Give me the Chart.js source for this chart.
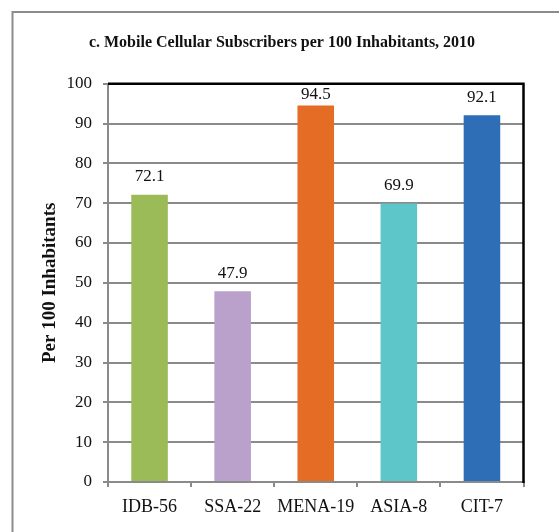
<!DOCTYPE html>
<html>
<head>
<meta charset="utf-8">
<script src="https://cdn.jsdelivr.net/npm/chart.js@4"></script>
<style>
  html, body { margin: 0; padding: 0; background: #fff; }
  #wrap { width: 559px; height: 532px; }
</style>
</head>
<body>
<div id="wrap"><canvas id="c" width="559" height="532"></canvas></div>
<script>
const chartTitle = "c. Mobile Cellular Subscribers per 100 Inhabitants, 2010";
const yAxisTitle = "Per 100 Inhabitants";
const categories = ["IDB-56", "SSA-22", "MENA-19", "ASIA-8", "CIT-7"];
const values = [72.1, 47.9, 94.5, 69.9, 92.1];
const barColors = ["#9BBB59", "#BAA1CC", "#E46C24", "#5DC6C9", "#2D6EB6"];
const yMin = 0, yMax = 100, yStep = 10;

const SERIF = '"Liberation Serif", "Times New Roman", serif';
const GRID = "#8a8a8a";

const framePlugin = {
  id: "frame",
  beforeDraw(chart) {
    const ctx = chart.ctx;
    ctx.save();
    ctx.fillStyle = "#fff";
    ctx.fillRect(0, 0, chart.width, chart.height);
    ctx.strokeStyle = "#8c8c8c";
    ctx.lineWidth = 2;
    ctx.strokeRect(12.5, 12, 700, 700);
    ctx.restore();
  },
  afterDatasetsDraw(chart) {
    const ctx = chart.ctx;
    const a = chart.chartArea;
    ctx.save();
    ctx.strokeStyle = "#000";
    ctx.lineWidth = 2.5;
    ctx.beginPath();
    ctx.moveTo(a.left, a.top);
    ctx.lineTo(a.right, a.top);
    ctx.lineTo(a.right, a.bottom + 1);
    ctx.stroke();
    // value labels (outside end, kept inside the plot area)
    ctx.fillStyle = "#111";
    ctx.font = "17px " + SERIF;
    ctx.textAlign = "center";
    ctx.textBaseline = "middle";
    const meta = chart.getDatasetMeta(0);
    meta.data.forEach((el, i) => {
      const y = Math.max(el.y - 18, a.top + 11);
      ctx.fillText(values[i].toFixed(1), el.x, y);
    });
    ctx.restore();
  }
};

new Chart(document.getElementById("c"), {
  type: "bar",
  data: {
    labels: categories,
    datasets: [{
      data: values,
      backgroundColor: barColors,
      borderWidth: 0,
      categoryPercentage: 1.0,
      barPercentage: 0.44
    }]
  },
  options: {
    responsive: false,
    animation: false,
    devicePixelRatio: 1,
    layout: { padding: { left: 12, top: 12, right: 7, bottom: 15 } },
    plugins: {
      legend: { display: false },
      tooltip: { enabled: false },
      title: {
        display: true,
        text: chartTitle,
        color: "#111",
        font: { family: SERIF, size: 16, weight: "bold", lineHeight: 1.2 },
        padding: { top: 21, bottom: 31.5 }
      }
    },
    scales: {
      x: {
        grid: { display: true, drawOnChartArea: false, color: GRID, lineWidth: 2, tickLength: 5, offset: true },
        border: { display: true, color: GRID, width: 2 },
        ticks: { color: "#111", font: { family: SERIF, size: 18 }, padding: 9, maxRotation: 0 },
        afterFit(s) { s.height = 35; }
      },
      y: {
        min: yMin, max: yMax,
        grid: { color: GRID, lineWidth: 2, tickLength: 5 },
        border: { display: true, color: GRID, width: 2 },
        ticks: { stepSize: yStep, color: "#111", font: { family: SERIF, size: 17 }, padding: 11 },
        title: {
          display: true,
          text: yAxisTitle,
          color: "#111",
          font: { family: SERIF, size: 19, weight: "bold", lineHeight: 1.2 },
          padding: { top: 27, bottom: 0 }
        },
        afterFit(s) { s.width = 96; }
      },
      y2: {
        position: "right",
        display: true,
        min: yMin, max: yMax,
        grid: { display: false, drawTicks: false },
        border: { display: false },
        ticks: { display: false },
        afterFit(s) { s.width = 28.5; }
      }
    }
  },
  plugins: [framePlugin]
});
</script>
</body>
</html>
